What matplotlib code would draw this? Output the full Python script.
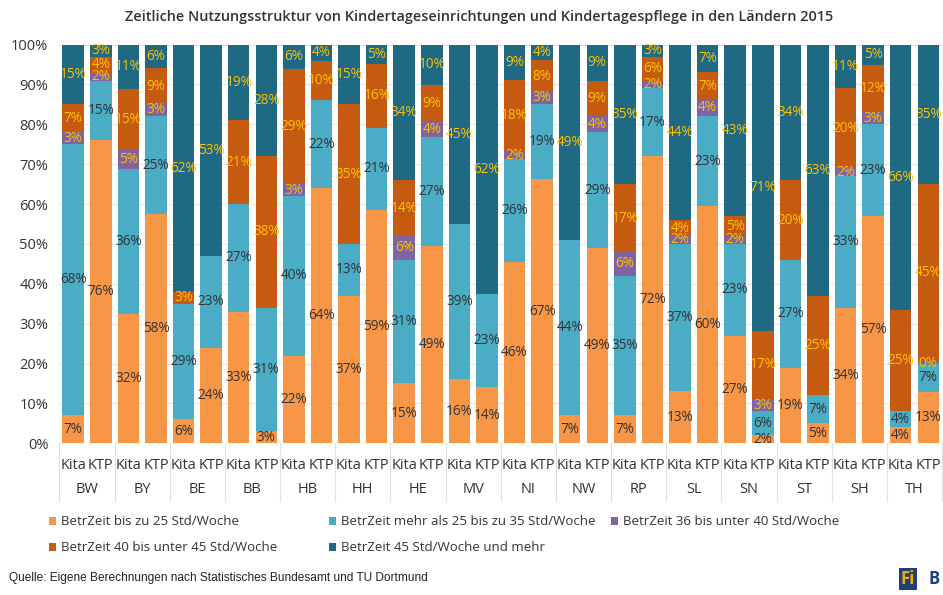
import numpy as np
import matplotlib.pyplot as plt
from matplotlib.transforms import blended_transform_factory

plt.rcParams['font.family'] = ['Open Sans', 'DejaVu Sans']

laender = ['BW', 'BY', 'BE', 'BB', 'HB', 'HH', 'HE', 'MV',
           'NI', 'NW', 'RP', 'SL', 'SN', 'ST', 'SH', 'TH']
arten = ['Kita', 'KTP']

serien = ['BetrZeit bis zu 25 Std/Woche',
          'BetrZeit mehr als 25 bis zu 35 Std/Woche',
          'BetrZeit 36 bis unter 40 Std/Woche',
          'BetrZeit 40 bis unter 45 Std/Woche',
          'BetrZeit 45 Std/Woche und mehr']

# per bar (Kita, KTP for each Land), in percent
bis25 = [7, 76, 32, 58, 6, 24, 33, 3, 22, 64, 37, 59, 15, 49, 16, 14,
         46, 67, 7, 49, 7, 72, 13, 60, 27, 2, 19, 5, 34, 57, 4, 13]
b25_35 = [68, 15, 36, 25, 29, 23, 27, 31, 40, 22, 13, 21, 31, 27, 39, 23,
          26, 19, 44, 29, 35, 17, 37, 23, 23, 6, 27, 7, 33, 23, 4, 7]
b36_40 = [3, 2, 5, 3, 0, 0, 0, 0, 3, 0, 0, 0, 6, 4, 0, 0,
          2, 3, 0, 4, 6, 2, 2, 4, 2, 3, 0, 0, 2, 3, 0, 0.4]
b40_45 = [7, 4, 15, 9, 3, 0, 21, 38, 29, 10, 35, 16, 14, 9, 0, 0,
          18, 8, 0, 9, 17, 6, 4, 7, 5, 17, 20, 25, 20, 12, 25, 45]
ab45 = [15, 3, 11, 6, 62, 53, 19, 28, 6, 4, 15, 5, 34, 10, 45, 62,
        9, 4, 49, 9, 35, 3, 44, 7, 43, 71, 34, 63, 11, 5, 66, 35]

farben = ['#F79646', '#4BACC6', '#8064A2', '#C55A11', '#1F6A82']
textfarben = ['#333333', '#333333', '#FFC000', '#FFC000', '#FFC000']

daten = np.array([bis25, b25_35, b36_40, b40_45, ab45], dtype=float)
hoehen = daten / daten.sum(axis=0) * 100

fig = plt.figure(figsize=(9.43, 5.95), dpi=100)
ax = fig.add_axes([0.063, 0.255, 0.936, 0.67])

x = np.arange(len(laender) * 2)
unten = np.zeros(len(x))
handles = []
for i in range(5):
    h = ax.bar(x, hoehen[i], bottom=unten, width=0.78, color=farben[i],
               label=serien[i], zorder=2)
    handles.append(h)
    for j in range(len(x)):
        if daten[i, j] > 0:
            ax.text(x[j], unten[j] + hoehen[i, j] / 2, '%d%%' % round(daten[i, j]),
                    ha='center', va='center', fontsize=9.8, color=textfarben[i],
                    zorder=3)
    unten += hoehen[i]

ax.set_xlim(-0.5, len(x) - 0.5)
ax.set_ylim(0, 100)
ax.set_yticks(np.arange(0, 101, 10))
ax.set_yticklabels(['%d%%' % v for v in range(0, 101, 10)], fontsize=10.5, color='#333333')
ax.yaxis.grid(True, color='#E6E6E6', linewidth=0.8, zorder=0)
ax.set_xticks([])
ax.tick_params(axis='y', length=0, pad=8)
for s in ax.spines.values():
    s.set_visible(False)

tr = blended_transform_factory(ax.transData, ax.transAxes)
for k, land in enumerate(laender):
    ax.text(2 * k, -0.055, arten[0], transform=tr, ha='center', va='center', fontsize=10.5, color='#333333')
    ax.text(2 * k + 1, -0.055, arten[1], transform=tr, ha='center', va='center', fontsize=10.5, color='#333333')
    ax.text(2 * k + 0.5, -0.115, land, transform=tr, ha='center', va='center', fontsize=10.5, color='#333333')
for k in range(len(laender) + 1):
    ax.plot([2 * k - 0.5, 2 * k - 0.5], [0, -0.145], transform=tr, color='#E0E0E0',
            linewidth=0.8, clip_on=False)

fig.text(0.508, 0.972, 'Zeitliche Nutzungsstruktur von Kindertageseinrichtungen und Kindertagespflege in den Ländern 2015',
         ha='center', va='center', fontsize=10.4, color='#333333', fontweight='semibold')

# legend: three columns placed by hand
spalten = [([0, 3], 0.046), ([1, 4], 0.343), ([2], 0.642)]
for idx, xpos in spalten:
    fig.legend([handles[i] for i in idx], [serien[i] for i in idx],
               loc='upper left', bbox_to_anchor=(xpos, 0.143),
               frameon=False, fontsize=9.5, handlelength=0.55, handleheight=0.55,
               handletextpad=0.35, labelspacing=1.0, borderaxespad=0,
               labelcolor='#333333')

fig.text(0.01, 0.028, 'Quelle: Eigene Berechnungen nach Statistisches Bundesamt und TU Dortmund',
         ha='left', va='center', fontsize=8.6, color='#222222', family=['Liberation Sans', 'DejaVu Sans'])

fig.text(0.963, 0.027, 'Fi', ha='center', va='center', fontsize=12, fontweight='bold',
         color='#F5A800', bbox=dict(boxstyle='square,pad=0.12', fc='#1F3F7A', ec='none'))
fig.text(0.99, 0.027, 'B', ha='center', va='center', fontsize=12, fontweight='bold', color='#1F3F7A')

plt.savefig('out.png', dpi=100)
